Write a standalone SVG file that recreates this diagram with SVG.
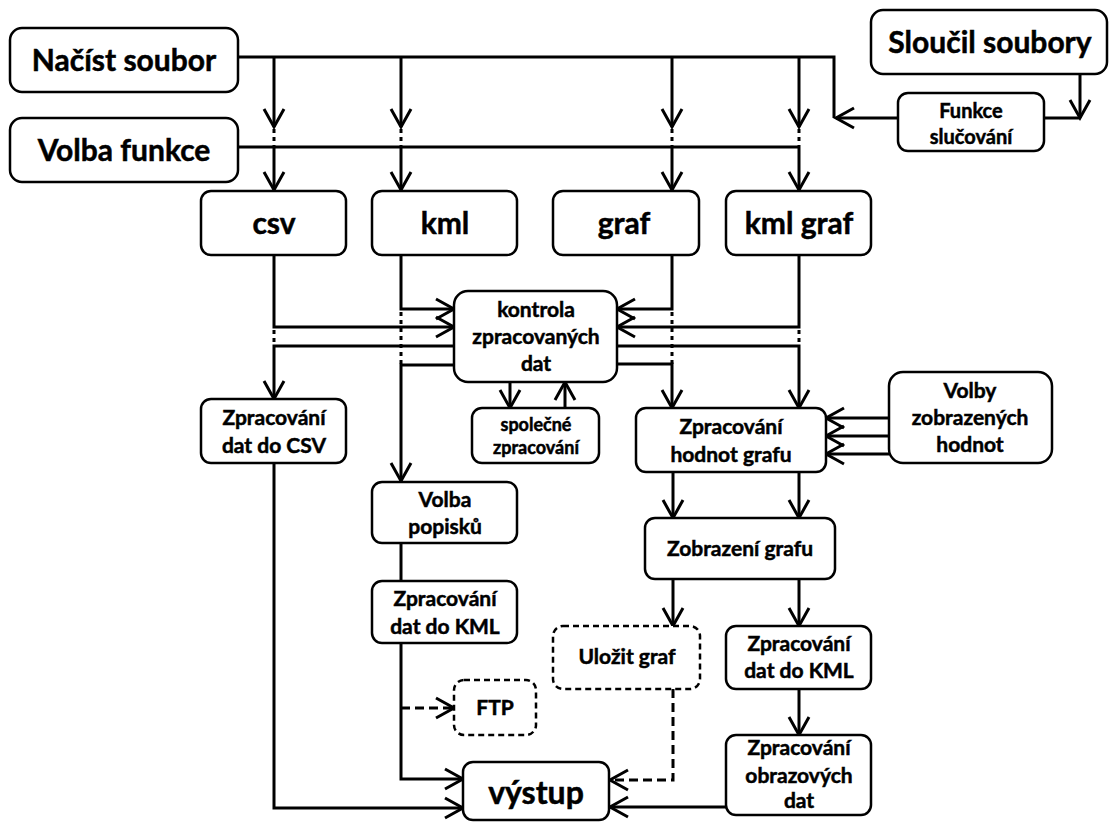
<svg xmlns="http://www.w3.org/2000/svg" width="1116" height="823" viewBox="0 0 1116 823">
<defs>
<marker id="arr" markerUnits="userSpaceOnUse" markerWidth="26" markerHeight="26" viewBox="-22 -13 26 26" refX="0" refY="0" orient="auto">
<path d="M-18,-10 L0,0 L-18,10" fill="none" stroke="#000" stroke-width="3" stroke-linejoin="miter"/>
</marker>
</defs>
<style>
.box{fill:#fff;stroke:#000;stroke-width:2.5}
.dbox{fill:#fff;stroke:#000;stroke-width:2.5;stroke-dasharray:6 4}
.ln{fill:none;stroke:#000;stroke-width:3}
.ar{fill:none;stroke:#000;stroke-width:3;marker-end:url(#arr)}
.da{fill:none;stroke:#000;stroke-width:3;stroke-dasharray:9 5;marker-end:url(#arr)}
.dot{fill:none;stroke:#000;stroke-width:3;stroke-dasharray:4 4}
text{font-family:Lato,"Liberation Sans",sans-serif;font-weight:bold;fill:#000;stroke:#000;stroke-width:0.5;text-anchor:middle}
.big{font-size:30px}
.mid{font-size:21px}
.fs{font-size:20px}
.sm{font-size:18px}
</style>
<rect width="1116" height="823" fill="#fff"/>
<g id="connectors">
<path class="ln" d="M238,57 H834 V118"/>
<path class="ar" d="M274,57 V127"/>
<path class="ar" d="M401,57 V127"/>
<path class="ar" d="M672,57 V127"/>
<path class="ar" d="M799,57 V127"/>
<path class="dot" d="M274,129 V147 M401,129 V147 M672,129 V147 M799,129 V147"/>
<path class="ln" d="M238,147 H799"/>
<path class="ar" d="M274,147 V190"/>
<path class="ar" d="M401,147 V190"/>
<path class="ar" d="M672,147 V190"/>
<path class="ar" d="M799,147 V190"/>
<path class="ar" d="M898,118 H836"/>
<path class="ln" d="M1044,118 H1080"/>
<path class="ar" d="M1080,74 V118"/>
<path class="ar" d="M274,255 V327 H454"/>
<path class="ar" d="M401,255 V309 H454"/>
<path class="ar" d="M672,255 V309 H617"/>
<path class="ar" d="M799,255 V327 H617"/>
<path class="dot" d="M274,330 V346 M401,312 V365 M672,312 V364 M799,330 V346"/>
<path class="ar" d="M454,346 H274 V399"/>
<path class="ar" d="M454,365 H401 V481"/>
<path class="ar" d="M617,346 H799 V408"/>
<path class="ar" d="M617,364 H672 V408"/>
<path class="ar" d="M510,382 V408"/>
<path class="ar" d="M565,408 V382"/>
<path class="ar" d="M889,418 H826"/>
<path class="ar" d="M889,436 H826"/>
<path class="ar" d="M889,454 H826"/>
<path class="ar" d="M673,472 V518"/>
<path class="ar" d="M799,472 V518"/>
<path class="ar" d="M673,579 V626"/>
<path class="ar" d="M799,579 V626"/>
<path class="ar" d="M799,689 V735"/>
<path class="ar" d="M726,807 H610"/>
<path class="da" d="M673,689 V780 H610"/>
<path class="ln" d="M401,543 V581"/>
<path class="ar" d="M401,643 V779 H463"/>
<path class="da" d="M401,708 H454"/>
<path class="ar" d="M274,463 V808 H463"/>
</g>
<g id="nacist"><rect class="box" x="10" y="28" width="228" height="64" rx="12"/><text class="big" x="124" y="71">Načíst soubor</text></g>
<g id="volba-funkce"><rect class="box" x="10" y="118" width="228" height="64" rx="12"/><text class="big" x="124" y="161">Volba funkce</text></g>
<g id="sloucil"><rect class="box" x="871" y="10" width="236" height="64" rx="12"/><text class="big" x="990" y="53">Sloučil soubory</text></g>
<g id="funkce-slucovani"><rect class="box" x="898" y="93" width="146" height="58" rx="10"/><text class="fs" x="971" y="118">Funkce</text><text class="fs" x="971" y="144">slučování</text></g>
<g id="csv"><rect class="box" x="201" y="191" width="145" height="64" rx="10"/><text class="big" x="274" y="234">csv</text></g>
<g id="kml"><rect class="box" x="372" y="191" width="145" height="64" rx="10"/><text class="big" x="445" y="234">kml</text></g>
<g id="graf"><rect class="box" x="553" y="191" width="146" height="64" rx="10"/><text class="big" x="624" y="234">graf</text></g>
<g id="kml-graf"><rect class="box" x="726" y="191" width="145" height="64" rx="10"/><text class="big" x="799" y="234">kml graf</text></g>
<g id="kontrola"><rect class="box" x="454" y="291" width="163" height="91" rx="14"/><text class="mid" x="536" y="317">kontrola</text><text class="mid" x="536" y="344">zpracovaných</text><text class="mid" x="536" y="371">dat</text></g>
<g id="spolecne"><rect class="box" x="472" y="408" width="127" height="55" rx="10"/><text class="sm" x="536" y="431">společné</text><text class="sm" x="536" y="454">zpracování</text></g>
<g id="csv-zprac"><rect class="box" x="201" y="399" width="145" height="64" rx="10"/><text class="mid" x="274" y="425">Zpracování</text><text class="mid" x="274" y="453">dat do CSV</text></g>
<g id="hodnot"><rect class="box" x="636" y="408" width="190" height="64" rx="10"/><text class="mid" x="731" y="434">Zpracování</text><text class="mid" x="731" y="462">hodnot grafu</text></g>
<g id="volby"><rect class="box" x="889" y="372" width="163" height="91" rx="14"/><text class="mid" x="970" y="398">Volby</text><text class="mid" x="970" y="425">zobrazených</text><text class="mid" x="970" y="452">hodnot</text></g>
<g id="volba-popisku"><rect class="box" x="372" y="482" width="145" height="61" rx="10"/><text class="mid" x="445" y="507">Volba</text><text class="mid" x="445" y="534">popisků</text></g>
<g id="zobrazeni"><rect class="box" x="645" y="518" width="190" height="61" rx="10"/><text class="mid" x="740" y="556">Zobrazení grafu</text></g>
<g id="kml-left"><rect class="box" x="372" y="581" width="145" height="62" rx="10"/><text class="mid" x="445" y="606">Zpracování</text><text class="mid" x="445" y="634">dat do KML</text></g>
<g id="ulozit"><rect class="dbox" x="553" y="626" width="147" height="63" rx="10"/><text class="mid" x="627" y="664">Uložit graf</text></g>
<g id="kml-right"><rect class="box" x="726" y="626" width="145" height="63" rx="10"/><text class="mid" x="799" y="651">Zpracování</text><text class="mid" x="799" y="678">dat do KML</text></g>
<g id="ftp"><rect class="dbox" x="454" y="680" width="82" height="55" rx="10"/><text class="mid" x="495" y="715">FTP</text></g>
<g id="obrazovych"><rect class="box" x="726" y="735" width="145" height="80" rx="10"/><text class="mid" x="799" y="755">Zpracování</text><text class="mid" x="799" y="783">obrazových</text><text class="mid" x="799" y="808">dat</text></g>
<g id="vystup"><rect class="box" x="463" y="762" width="146" height="58" rx="10"/><text x="536" y="804" style="font-size:32px">výstup</text></g>
</svg>
